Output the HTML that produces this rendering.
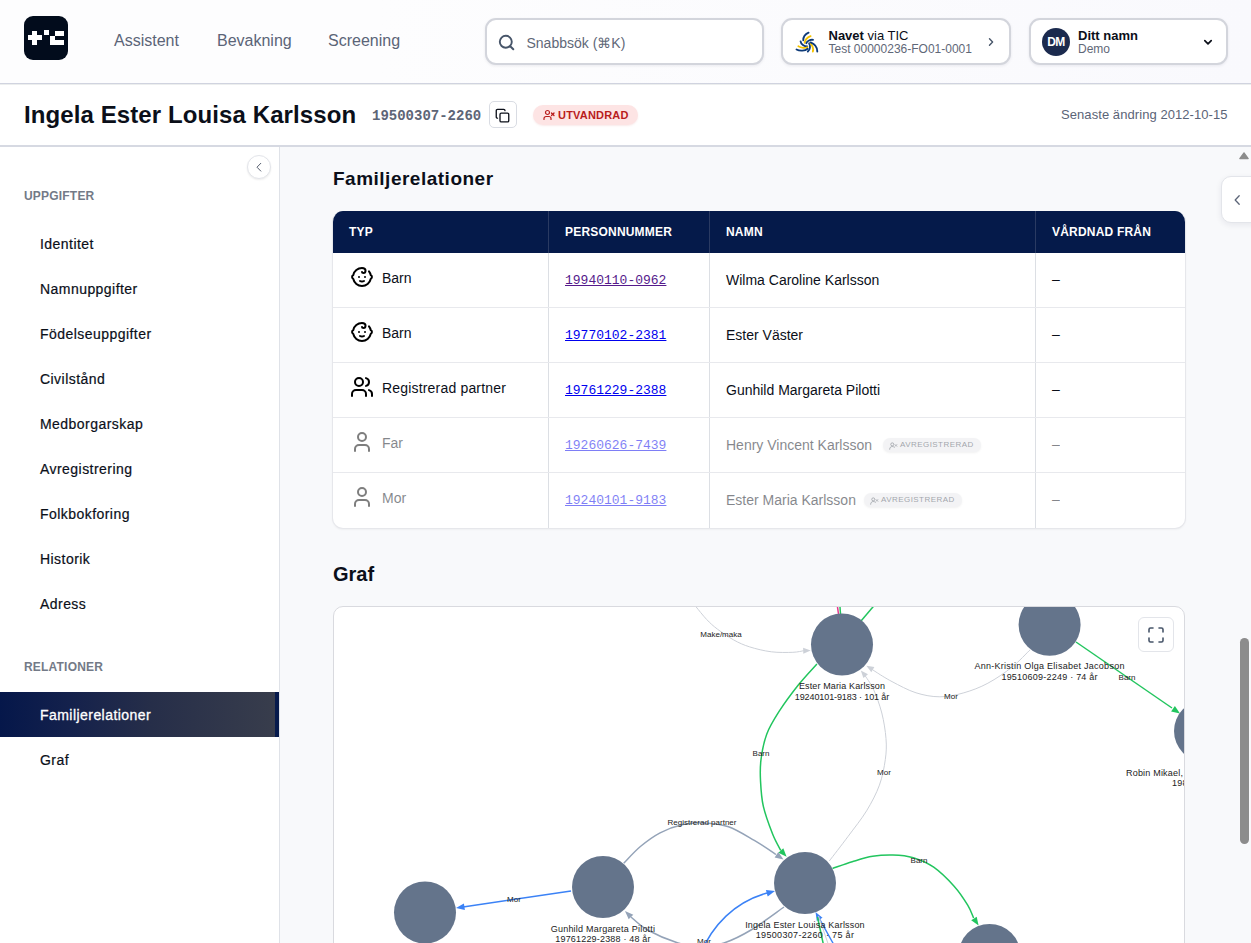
<!DOCTYPE html>
<html><head><meta charset="utf-8">
<style>
*{box-sizing:border-box;margin:0;padding:0}
html,body{width:1251px;height:943px;overflow:hidden;background:#f8f9fb;font-family:"Liberation Sans",sans-serif;color:#0b0f19}
.abs{position:absolute}
#nav{position:absolute;z-index:3;left:0;top:0;width:1251px;height:84px;background:linear-gradient(90deg,#fdfdfe 30%,#f9f9fd 100%);border-bottom:1px solid #d0d3df;box-shadow:0 1px 0 #eceeee}
#logo{position:absolute;left:24px;top:16px;width:44px;height:44px;border-radius:9px;background:#020c1c}
#logo i{position:absolute;background:#fff}
.navlink{position:absolute;top:31.5px;font-size:16px;color:#5b6477;line-height:18px}
.box{position:absolute;top:18px;height:47px;background:#fff;border:2px solid #d3d5dc;border-radius:11px;box-shadow:0 1px 3px rgba(20,30,60,0.08)}
.box>*{margin:-0.8px 0 0 -0.5px}
#hdr{position:absolute;z-index:2;left:0;top:84px;width:1251px;height:63px;background:#fff;border-bottom:2px solid #d6d9e2}
#side{position:absolute;left:0;top:146px;width:280px;height:797px;background:#fff;border-right:1px solid #dfe2e8}
.sec{position:absolute;left:24px;font-size:12px;font-weight:bold;letter-spacing:0.2px;color:#737a87}
.item{position:absolute;left:40px;top:0;font-size:14px;color:#0b0f19;letter-spacing:0.45px;white-space:nowrap;-webkit-text-stroke:0.2px #0b0f19}
#main{position:absolute;left:280px;top:146px;width:971px;height:797px;background:#f8f9fb;overflow:hidden}
.th{position:absolute;top:13px;font-size:12px;font-weight:bold;color:#fff;white-space:nowrap;letter-spacing:0.2px}
.td{position:absolute;font-size:14px;color:#0b0f19;white-space:nowrap}
.el{font-size:8px;fill:#222;text-anchor:middle;font-family:"Liberation Sans",sans-serif}
.nl{font-size:9px;letter-spacing:0.2px;fill:#222;text-anchor:middle;font-family:"Liberation Sans",sans-serif}
.lnk{position:absolute;font-family:"Liberation Mono",monospace;font-size:13px;text-decoration:underline;white-space:nowrap}
</style></head><body>
<div id="nav">
  <div id="logo">
    <i style="left:4px;top:19.3px;width:14px;height:5px"></i>
    <i style="left:8px;top:15px;width:5px;height:14px"></i>
    <i style="left:19.5px;top:14.2px;width:5px;height:5.2px"></i>
    <i style="left:31px;top:15px;width:9px;height:5px"></i>
    <i style="left:26px;top:19.5px;width:5px;height:9.5px"></i>
    <i style="left:26px;top:24.2px;width:14px;height:4.8px"></i>
  </div>
  <div class="navlink" style="left:114px">Assistent</div>
  <div class="navlink" style="left:217px">Bevakning</div>
  <div class="navlink" style="left:328px">Screening</div>
  <div class="box" style="left:485px;width:279px">
    <svg class="abs" style="left:10.5px;top:13.5px" width="20" height="20" viewBox="0 0 20 20"><circle cx="8.8" cy="8.8" r="6" fill="none" stroke="#475569" stroke-width="1.9"/><path d="M13.2 13.2 L16.3 16.3" stroke="#475569" stroke-width="2" stroke-linecap="round"/></svg>
    <div class="abs" style="left:40px;top:15.3px;font-size:14px;color:#5f6878">Snabbsök (⌘K)</div>
  </div>
  <div class="box" style="left:781px;width:230px">
    <svg class="abs" style="left:2.5px;top:5.8px" width="45" height="35" viewBox="0 0 1212 943"><g fill="none" stroke-width="50" stroke-linecap="round">
<path d="M635 205 C560 240 490 320 492 410" stroke="#0d3a78"/><path d="M690 300 C610 330 540 400 530 480" stroke="#f5c400"/><path d="M755 400 C680 390 600 430 575 490" stroke="#0d3a78"/>
<path d="M420 440 C430 520 520 580 600 580" stroke="#0d3a78"/><path d="M360 575 C430 620 550 630 600 600" stroke="#f5c400"/><path d="M310 660 C400 710 540 700 610 640" stroke="#0d3a78"/>
<path d="M650 490 C690 560 680 660 615 715" stroke="#0d3a78"/><path d="M690 500 C750 570 770 650 750 715" stroke="#f5c400"/><path d="M690 470 C790 510 870 600 870 715" stroke="#0d3a78"/>
</g></svg>
    <div class="abs" style="left:46px;top:8.5px;font-size:13px;color:#0b0f19;white-space:nowrap"><b>Navet</b> via TIC</div>
    <div class="abs" style="left:46px;top:22.5px;font-size:12px;color:#5f6878;white-space:nowrap">Test 00000236-FO01-0001</div>
    <svg class="abs" style="left:202px;top:16px" width="12" height="14" viewBox="0 0 12 14"><path d="M4.5 3.8 L7.6 7 L4.5 10.2" fill="none" stroke="#475569" stroke-width="1.4" stroke-linecap="round" stroke-linejoin="round"/></svg>
  </div>
  <div class="box" style="left:1029px;width:199px">
    <div class="abs" style="left:11.5px;top:8.5px;width:28px;height:28px;border-radius:50%;background:#1b2a4e;color:#fff;font-size:12px;font-weight:bold;text-align:center;line-height:28px;letter-spacing:-0.5px">DM</div>
    <div class="abs" style="left:47.5px;top:8.5px;font-size:13px;font-weight:bold;color:#0b0f19;white-space:nowrap">Ditt namn</div>
    <div class="abs" style="left:47.5px;top:22.7px;font-size:12px;color:#5f6878">Demo</div>
    <svg class="abs" style="left:170px;top:16px" width="14" height="14" viewBox="0 0 14 14"><path d="M3.8 5.6 L7 8.8 L10.2 5.6" fill="none" stroke="#0b0f19" stroke-width="1.7" stroke-linecap="round" stroke-linejoin="round"/></svg>
  </div>
</div>
<div id="hdr">
  <div class="abs" style="left:24px;top:16.7px;font-size:24px;font-weight:bold;letter-spacing:0.1px;white-space:nowrap">Ingela Ester Louisa Karlsson</div>
  <div class="abs" style="left:372px;top:23.5px;font-family:'Liberation Mono',monospace;font-size:14px;font-weight:bold;color:#5d6576;white-space:nowrap">19500307-2260</div>
  <div class="abs" style="left:489px;top:17px;width:28px;height:27px;border:1px solid #d9dce3;border-radius:5px;background:#fff">
    <svg class="abs" style="left:5.2px;top:5.6px" width="15"  height="15.3" viewBox="0 0 24 24" fill="none" stroke="#0b0f19" stroke-width="2.1" stroke-linecap="round" stroke-linejoin="round"><rect width="14" height="14" x="8" y="8" rx="2" ry="2"/><path d="M4 16c-1.1 0-2-.9-2-2V4c0-1.1.9-2 2-2h10c1.1 0 2 .9 2 2"/></svg>
  </div>
  <div class="abs" style="left:533px;top:21px;width:105px;height:20px;border-radius:10px;background:#fde4e4;box-shadow:0 1px 2px rgba(200,50,50,0.10)">
    <svg class="abs" style="left:9.7px;top:4.1px" width="12" height="12" viewBox="0 0 24 24" fill="none" stroke="#b91c1c" stroke-width="2.4" stroke-linecap="round" stroke-linejoin="round"><path d="M16 21v-2a4 4 0 0 0-4-4H6a4 4 0 0 0-4 4v2"/><circle cx="9" cy="7" r="4"/><line x1="17" x2="22" y1="8" y2="13"/><line x1="22" x2="17" y1="8" y2="13"/></svg>
    <div class="abs" style="left:25px;top:4px;font-size:11px;font-weight:bold;color:#b91c1c;letter-spacing:0.2px;white-space:nowrap">UTVANDRAD</div>
  </div>
  <div class="abs" style="left:1061px;top:23px;font-size:13px;color:#5b6477;letter-spacing:0.07px;white-space:nowrap">Senaste ändring 2012-10-15</div>
</div>
<div id="side">
  <div class="abs" style="left:247px;top:9px;width:24px;height:24px;border-radius:50%;border:1px solid #e3e5ea;background:#fff;box-shadow:0 1px 2px rgba(0,0,0,0.08)"><svg class="abs" style="left:6px;top:6px" width="11" height="11" viewBox="0 0 11 11"><path d="M6.8 1.3 L3 5.2 L6.8 9.1" fill="none" stroke="#555d6e" stroke-width="1" stroke-linecap="round" stroke-linejoin="round"/></svg></div>
  <div class="sec" style="top:43px">UPPGIFTER</div>
  <div class="item" style="top:90px">Identitet</div>
  <div class="item" style="top:135px">Namnuppgifter</div>
  <div class="item" style="top:180px">Födelseuppgifter</div>
  <div class="item" style="top:225px">Civilstånd</div>
  <div class="item" style="top:270px">Medborgarskap</div>
  <div class="item" style="top:315px">Avregistrering</div>
  <div class="item" style="top:360px">Folkbokforing</div>
  <div class="item" style="top:405px">Historik</div>
  <div class="item" style="top:450px">Adress</div>
  <div class="sec" style="top:514px">RELATIONER</div>
  <div class="abs" style="left:0;top:546px;width:279px;height:45px;background:linear-gradient(90deg,#05174a 0%,#14214c 25%,#262e49 55%,#383d4c 100%);border-right:4px solid #061a4c"></div>
  <div class="item" style="top:561px;color:#fff;-webkit-text-stroke:0.3px #fff">Familjerelationer</div>
  <div class="item" style="top:606px">Graf</div>
</div>
<div class="abs" style="left:333px;top:168px;font-size:19px;font-weight:bold;letter-spacing:0.5px;white-space:nowrap">Familjerelationer</div>
<div class="abs" style="left:332px;top:211px;width:854px;height:318px;border:1px solid #e6e7eb;border-top:0;border-radius:11px;background:#fff;overflow:hidden;box-shadow:0 1px 2px rgba(0,0,0,0.04)"><div class="abs" style="left:1px;top:1px;width:850px;height:316px">
  <div class="abs" style="left:-1px;top:-1px;width:854px;height:42px;background:#051a4a"></div>
  <div class="abs" style="left:214px;top:-1px;width:1px;height:317px;background:#dcdfe4"></div>
  <div class="abs" style="left:214px;top:-1px;width:1px;height:42px;background:#2a3a62"></div>
  <div class="abs" style="left:375px;top:-1px;width:1px;height:317px;background:#dcdfe4"></div>
  <div class="abs" style="left:375px;top:-1px;width:1px;height:42px;background:#2a3a62"></div>
  <div class="abs" style="left:701px;top:-1px;width:1px;height:317px;background:#dcdfe4"></div>
  <div class="abs" style="left:701px;top:-1px;width:1px;height:42px;background:#2a3a62"></div>
  <div class="th" style="left:15px">TYP</div>
  <div class="th" style="left:231px">PERSONNUMMER</div>
  <div class="th" style="left:392px">NAMN</div>
  <div class="th" style="left:718px">VÅRDNAD FRÅN</div>
  <div class="abs" style="left:0;top:40px;width:850px;height:55px;">
    <svg class="abs" style="left:16px;top:12.5px" width="24" height="24" viewBox="0 0 24 24" fill="none" stroke="#000" stroke-width="2" stroke-linecap="round" stroke-linejoin="round"><path d="M9 12h.01"/><path d="M15 12h.01"/><path d="M10 16c.5.3 1.2.5 2 .5s1.5-.2 2-.5"/><path d="M19 6.3a9 9 0 0 1 1.8 3.9 2 2 0 0 1 0 3.6 9 9 0 0 1-17.6 0 2 2 0 0 1 0-3.6A9 9 0 0 1 12 3c2 0 3.5 1.1 3.5 2.5s-.9 2.5-2 2.5c-.8 0-1.5-.4-1.5-1"/></svg>
    <div class="td" style="left:48px;top:17.5px">Barn</div>
    <div class="lnk" style="left:231px;top:20.7px;color:#551a8b">19940110-0962</div>
    <div class="td" style="left:392px;top:20px">Wilma Caroline Karlsson</div>
    <div class="td" style="left:718px;top:19px">–</div>
  </div>
  <div class="abs" style="left:-1px;top:95px;width:852px;height:1px;background:#e8e9ed"></div>
  <div class="abs" style="left:0;top:95px;width:850px;height:55px;">
    <svg class="abs" style="left:16px;top:12.5px" width="24" height="24" viewBox="0 0 24 24" fill="none" stroke="#000" stroke-width="2" stroke-linecap="round" stroke-linejoin="round"><path d="M9 12h.01"/><path d="M15 12h.01"/><path d="M10 16c.5.3 1.2.5 2 .5s1.5-.2 2-.5"/><path d="M19 6.3a9 9 0 0 1 1.8 3.9 2 2 0 0 1 0 3.6 9 9 0 0 1-17.6 0 2 2 0 0 1 0-3.6A9 9 0 0 1 12 3c2 0 3.5 1.1 3.5 2.5s-.9 2.5-2 2.5c-.8 0-1.5-.4-1.5-1"/></svg>
    <div class="td" style="left:48px;top:17.5px">Barn</div>
    <div class="lnk" style="left:231px;top:20.7px;color:#0000ee">19770102-2381</div>
    <div class="td" style="left:392px;top:20px">Ester Väster</div>
    <div class="td" style="left:718px;top:19px">–</div>
  </div>
  <div class="abs" style="left:-1px;top:150px;width:852px;height:1px;background:#e8e9ed"></div>
  <div class="abs" style="left:0;top:150px;width:850px;height:55px;">
    <svg class="abs" style="left:16px;top:12.5px" width="24" height="24" viewBox="0 0 24 24" fill="none" stroke="#000" stroke-width="2" stroke-linecap="round" stroke-linejoin="round"><path d="M16 21v-2a4 4 0 0 0-4-4H6a4 4 0 0 0-4 4v2"/><circle cx="9" cy="7" r="4"/><path d="M22 21v-2a4 4 0 0 0-3-3.87"/><path d="M16 3.13a4 4 0 0 1 0 7.75"/></svg>
    <div class="td" style="left:48px;top:17.5px;letter-spacing:0.18px">Registrerad partner</div>
    <div class="lnk" style="left:231px;top:20.7px;color:#0000ee">19761229-2388</div>
    <div class="td" style="left:392px;top:20px">Gunhild Margareta Pilotti</div>
    <div class="td" style="left:718px;top:19px">–</div>
  </div>
  <div class="abs" style="left:-1px;top:205px;width:852px;height:1px;background:#e8e9ed"></div>
  <div class="abs" style="left:0;top:205px;width:850px;height:55px;opacity:0.5;">
    <svg class="abs" style="left:16px;top:12.5px" width="24" height="24" viewBox="0 0 24 24" fill="none" stroke="#000" stroke-width="2" stroke-linecap="round" stroke-linejoin="round"><path d="M19 21v-2a4 4 0 0 0-4-4H9a4 4 0 0 0-4 4v2"/><circle cx="12" cy="7" r="4"/></svg>
    <div class="td" style="left:48px;top:17.5px">Far</div>
    <div class="lnk" style="left:231px;top:20.7px;color:#0000ee">19260626-7439</div>
    <div class="td" style="left:392px;top:20px">Henry Vincent Karlsson</div>
    <div class="abs" style="left:549px;top:21px;height:14px;padding:0 7px 0 17px;border-radius:7px;background:#e8e9ed;box-shadow:0 1px 2px rgba(0,0,0,0.10);font-size:8px;color:#454b57;line-height:14px;letter-spacing:0.45px;white-space:nowrap"><svg class="abs" style="left:6px;top:3.5px" width="8.5" height="8" viewBox="0 0 13 12"><circle cx="5" cy="3.5" r="2.3" fill="none" stroke="#454b57" stroke-width="1.3"/><path d="M1 11 C1 8 3 6.8 5 6.8 C6.5 6.8 7.5 7.3 8.2 8" fill="none" stroke="#454b57" stroke-width="1.3" stroke-linecap="round"/><path d="M9.3 3.8 L12 6.5 M12 3.8 L9.3 6.5" stroke="#454b57" stroke-width="1.2" stroke-linecap="round"/></svg>AVREGISTRERAD</div>
    <div class="td" style="left:718px;top:19px">–</div>
  </div>
  <div class="abs" style="left:-1px;top:260px;width:852px;height:1px;background:#e8e9ed"></div>
  <div class="abs" style="left:0;top:260px;width:850px;height:55px;opacity:0.5;">
    <svg class="abs" style="left:16px;top:12.5px" width="24" height="24" viewBox="0 0 24 24" fill="none" stroke="#000" stroke-width="2" stroke-linecap="round" stroke-linejoin="round"><path d="M19 21v-2a4 4 0 0 0-4-4H9a4 4 0 0 0-4 4v2"/><circle cx="12" cy="7" r="4"/></svg>
    <div class="td" style="left:48px;top:17.5px">Mor</div>
    <div class="lnk" style="left:231px;top:20.7px;color:#0000ee">19240101-9183</div>
    <div class="td" style="left:392px;top:20px">Ester Maria Karlsson</div>
    <div class="abs" style="left:530px;top:21px;height:14px;padding:0 7px 0 17px;border-radius:7px;background:#e8e9ed;box-shadow:0 1px 2px rgba(0,0,0,0.10);font-size:8px;color:#454b57;line-height:14px;letter-spacing:0.45px;white-space:nowrap"><svg class="abs" style="left:6px;top:3.5px" width="8.5" height="8" viewBox="0 0 13 12"><circle cx="5" cy="3.5" r="2.3" fill="none" stroke="#454b57" stroke-width="1.3"/><path d="M1 11 C1 8 3 6.8 5 6.8 C6.5 6.8 7.5 7.3 8.2 8" fill="none" stroke="#454b57" stroke-width="1.3" stroke-linecap="round"/><path d="M9.3 3.8 L12 6.5 M12 3.8 L9.3 6.5" stroke="#454b57" stroke-width="1.2" stroke-linecap="round"/></svg>AVREGISTRERAD</div>
    <div class="td" style="left:718px;top:19px">–</div>
  </div>
</div>
</div>
<div class="abs" style="left:333px;top:563px;font-size:20px;font-weight:bold">Graf</div>
<div id="graph" class="abs" style="left:333px;top:606px;width:852px;height:360px;border:1px solid #d9dadf;border-radius:10px;background:#fff;overflow:hidden"><!--G--><svg class="abs" style="left:-1px;top:-1px" width="852" height="360" viewBox="333 606 852 360"><path d="M692.0 602.0 C692.6 602.8 693.4 603.6 695.8 606.5 C698.2 609.4 703.0 615.6 706.6 619.4 C710.2 623.2 712.9 625.7 717.4 629.1 C721.9 632.5 728.2 636.9 733.6 639.9 C739.0 642.9 743.4 644.9 749.7 646.9 C756.0 648.9 764.1 650.9 771.3 651.8 C778.5 652.7 787.5 652.5 792.9 652.3 C798.3 652.1 801.9 651.0 803.7 650.7" fill="none" stroke="#cdd1d8" stroke-width="1"/><path d="M810.7 650.5 L803.3 653.7 L803.1 647.7 Z" fill="#cdd1d8"/><path d="M836.5 600 L838.5 614" fill="none" stroke="#e8368f" stroke-width="1.5"/><path d="M839.5 600 L840.5 614" fill="none" stroke="#22c55e" stroke-width="1.5"/><path d="M878 601 L861 621" fill="none" stroke="#22c55e" stroke-width="1.5"/><path d="M816.9 664.0 C813.8 667.5 804.5 677.2 798.3 685.0 C792.1 692.8 784.9 702.5 779.6 710.6 C774.4 718.8 769.9 725.7 766.8 733.9 C763.7 742.1 762.0 751.8 761.0 759.6 C760.0 767.4 760.1 772.7 760.5 780.5 C760.9 788.3 761.3 797.3 763.3 806.2 C765.3 815.1 769.7 826.7 772.6 834.1 C775.5 841.5 779.4 847.8 780.8 850.5" fill="none" stroke="#22c55e" stroke-width="1.5"/><path d="M786.6 856.8 L778.4 852.8 L783.3 848.3 Z" fill="#22c55e"/><path d="M829.3 861.0 C832.4 856.9 841.8 844.9 848.0 836.5 C854.2 828.1 861.4 819.3 866.6 810.8 C871.8 802.2 876.3 793.7 879.4 785.2 C882.5 776.7 884.2 767.4 885.3 759.6 C886.4 751.8 886.6 746.4 886.0 738.6 C885.4 730.8 883.9 721.2 881.8 713.0 C879.7 704.8 876.5 696.0 873.6 689.6 C870.7 683.2 865.8 677.0 864.3 674.5" fill="none" stroke="#cdd1d8" stroke-width="1"/><path d="M860.8 670.4 L868.0 674.2 L863.4 678.1 Z" fill="#cdd1d8"/><path d="M1030.3 649.6 C1027.2 652.5 1019.0 661.6 1011.9 667.2 C1004.8 672.8 995.9 678.9 987.9 683.2 C979.9 687.5 971.9 690.5 963.9 692.8 C955.9 695.1 947.9 696.8 939.9 696.8 C931.9 696.8 924.0 695.3 916.0 692.8 C908.0 690.3 898.7 685.1 892.0 681.6 C885.3 678.1 879.3 674.1 876.0 672.0 C872.7 669.9 872.7 669.7 872.0 669.2" fill="none" stroke="#cdd1d8" stroke-width="1"/><path d="M866.4 665.8 L874.4 667.1 L871.3 672.3 Z" fill="#cdd1d8"/><path d="M1076 642 L1172 708" fill="none" stroke="#22c55e" stroke-width="1.5"/><path d="M1180.0 713.5 L1171.1 711.4 L1174.9 706.0 Z" fill="#22c55e"/><path d="M571 891 L463 907" fill="none" stroke="#3b82f6" stroke-width="1.5"/><path d="M456.0 908.0 L463.9 903.5 L464.9 910.0 Z" fill="#3b82f6"/><path d="M623.7 863.2 C626.5 860.4 634.3 851.6 640.4 846.5 C646.5 841.4 653.0 836.5 660.1 832.8 C667.2 829.1 675.5 826.0 682.9 824.4 C690.2 822.8 696.6 822.5 704.2 822.9 C711.8 823.3 720.1 823.8 728.5 826.7 C736.9 829.6 746.4 835.8 754.3 840.4 C762.2 845.0 772.4 852.1 776.0 854.5" fill="none" stroke="#94a3b8" stroke-width="1.5"/><path d="M783.5 859.6 L774.6 857.5 L778.3 852.1 Z" fill="#94a3b8"/><path d="M784.0 907.0 C778.5 910.8 761.0 924.0 751.0 930.0 C741.0 936.0 732.3 940.2 724.0 943.0 C715.7 945.8 708.7 946.5 701.0 946.5 C693.3 946.5 686.9 945.8 678.0 943.0 C669.1 940.2 655.3 934.3 647.5 930.0 C639.7 925.7 633.8 919.2 631.0 917.0" fill="none" stroke="#94a3b8" stroke-width="1.5"/><path d="M625.0 911.0 L633.3 914.7 L628.7 919.3 Z" fill="#94a3b8"/><path d="M700 955 C712 925 735 902 767 893" fill="none" stroke="#3b82f6" stroke-width="1.5"/><path d="M775.0 891.0 L767.7 896.5 L765.9 890.1 Z" fill="#3b82f6"/><path d="M834 945 L819 918" fill="none" stroke="#3b82f6" stroke-width="1.5"/><path d="M815.5 912.0 L822.5 917.8 L816.8 921.0 Z" fill="#3b82f6"/><path d="M823.5 945 L817.5 917" fill="none" stroke="#22c55e" stroke-width="1.5"/><path d="M828.5 945 L818.5 916" fill="none" stroke="#cdd1d8" stroke-width="1"/><path d="M832.5 868.5 C835.8 867.4 845.5 863.7 852.2 861.7 C858.9 859.7 865.8 857.4 872.6 856.3 C879.4 855.2 886.1 854.8 892.9 855.0 C899.7 855.2 906.5 855.7 913.3 857.7 C920.1 859.7 926.9 862.5 933.7 867.2 C940.5 872.0 948.4 879.9 954.1 886.2 C959.8 892.5 964.5 899.9 967.7 905.2 C971.0 910.5 972.6 915.9 973.6 918.0" fill="none" stroke="#22c55e" stroke-width="1.5"/><path d="M978.6 925.6 L971.2 920.3 L976.7 916.7 Z" fill="#22c55e"/><circle cx="842" cy="644.5" r="31" fill="#64748b"/><circle cx="1049.6" cy="624.8" r="31" fill="#64748b"/><circle cx="1205" cy="731" r="31" fill="#64748b"/><circle cx="805" cy="883" r="31" fill="#64748b"/><circle cx="603" cy="887" r="31" fill="#64748b"/><circle cx="425" cy="912.5" r="31" fill="#64748b"/><circle cx="989.5" cy="955" r="31" fill="#64748b"/><text x="721" y="636.5" class="el">Make/maka</text><text x="761" y="755.5" class="el">Barn</text><text x="884" y="774.5" class="el">Mor</text><text x="951" y="698.5" class="el">Mor</text><text x="1127" y="679.5" class="el">Barn</text><text x="514" y="901.5" class="el">Mor</text><text x="702" y="824.5" class="el">Registrerad partner</text><text x="704" y="943.5" class="el">Mor</text><text x="919" y="862.5" class="el">Barn</text><text x="842" y="689.0" class="nl" style="letter-spacing:0.13px">Ester Maria Karlsson</text><text x="842" y="699.5" class="nl" style="letter-spacing:-0.1px">19240101-9183 · 101 år</text><text x="1049.6" y="669.3" class="nl" style="letter-spacing:0.27px">Ann-Kristin Olga Elisabet Jacobson</text><text x="1049.6" y="679.8" class="nl" style="letter-spacing:0.23px">19510609-2249 · 74 år</text><text x="805" y="927.5" class="nl" style="letter-spacing:0.18px">Ingela Ester Louisa Karlsson</text><text x="805" y="938" class="nl" style="letter-spacing:0.33px">19500307-2260 · 75 år</text><text x="603" y="931.5" class="nl" style="letter-spacing:0.22px">Gunhild Margareta Pilotti</text><text x="603" y="942" class="nl" style="letter-spacing:0.18px">19761229-2388 · 48 år</text><text x="1126" y="775.5" class="nl" style="text-anchor:start">Robin Mikael, Karlsson</text><text x="1172" y="786" class="nl" style="text-anchor:start">19850101-0000</text></svg><div class="abs" style="left:804px;top:10px;width:36px;height:35px;border:1px solid #e3e5ea;border-radius:6px;background:#fff"><svg class="abs" style="left:8px;top:8px" width="18" height="18" viewBox="0 0 18 18" fill="none" stroke="#475569" stroke-width="1.6" stroke-linecap="round"><path d="M2 6V3.5A1.5 1.5 0 0 1 3.5 2H6M12 2h2.5A1.5 1.5 0 0 1 16 3.5V6M16 12v2.5a1.5 1.5 0 0 1-1.5 1.5H12M6 16H3.5A1.5 1.5 0 0 1 2 14.5V12"/></svg></div><!--/G--></div>
<div class="abs" style="left:1221px;top:176px;width:40px;height:47px;border:1px solid #e3e5ea;border-radius:10px;background:#fff;box-shadow:0 2px 6px rgba(20,30,60,0.08)"><svg class="abs" style="left:10px;top:17px" width="10" height="12" viewBox="0 0 10 12"><path d="M7.2 1.8 L3.2 6 L7.2 10.2" fill="none" stroke="#5b6477" stroke-width="1.3" stroke-linecap="round" stroke-linejoin="round"/></svg></div>
<svg class="abs" style="left:1238px;top:150px" width="12" height="10" viewBox="0 0 12 10"><path d="M6 2.8 L10.2 8.6 L1.8 8.6 Z" fill="#8c8c8c" stroke="#8c8c8c" stroke-width="1.2" stroke-linejoin="round"/></svg>
<div class="abs" style="left:1240px;top:638px;width:9px;height:206px;border-radius:4.5px;background:#8c8c8c"></div>
</body></html>
